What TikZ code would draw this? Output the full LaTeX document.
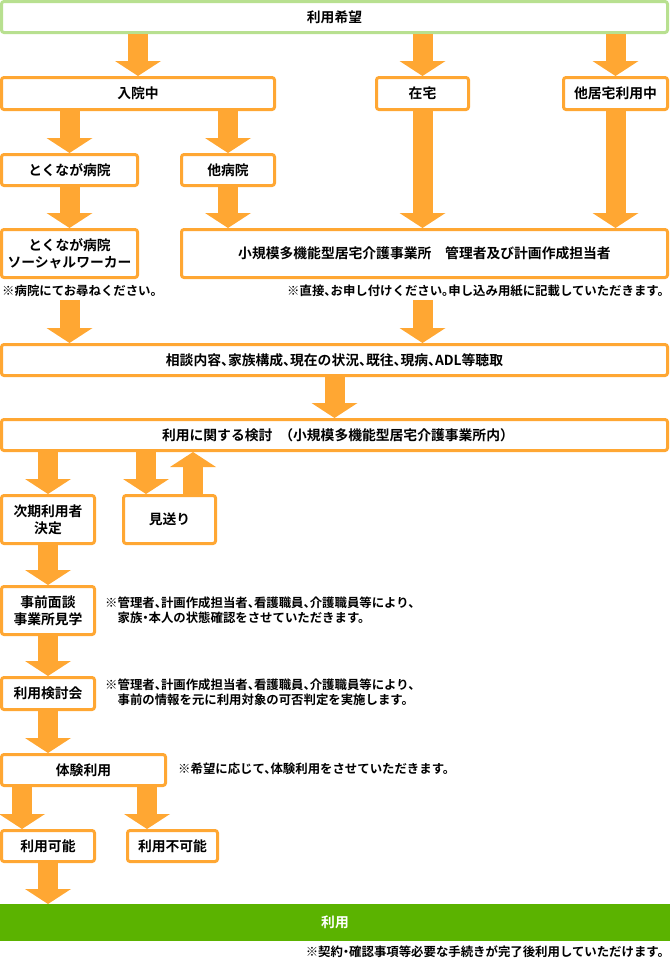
\documentclass[tikz,border=0pt]{standalone}
\usepackage{fontspec}
\setmainfont{Noto Sans CJK JP}[BoldFont={Noto Sans CJK JP Bold},RawFeature=+halt]
\usetikzlibrary{positioning,arrows.meta}
\definecolor{boxorange}{HTML}{FFA733}
\definecolor{lightgreen}{HTML}{B8E090}
\definecolor{usegreen}{HTML}{5BB300}
\tikzset{
    x=1pt,
    y=-1pt,
    block/.style = {
        draw=boxorange,
        shape=rectangle,
        rounded corners=2.5pt,
        line width=3pt,
        fill=white,
        inner sep=0pt,
        align=center,
        font=\bfseries\fontsize{13.8}{17}\selectfont
    },
    note/.style = {
        shape=rectangle,
        inner sep=3pt,
        align=left,
        font=\bfseries\fontsize{12.4}{15}\selectfont
    },
    flow/.style = {
        draw=boxorange,
        line width=20pt,
        -{Triangle[width=46pt,length=15pt,line width=0pt]}
    },
}

\begin{document}
\begin{tikzpicture}
            \useasboundingbox (0,0) rectangle (670,962);

            \node[block, draw=lightgreen, minimum width=666pt, minimum height=31pt] (want) at (334.5,17) {利用希望};
            \node[block, minimum width=273pt, minimum height=32pt] (nyuin) at (138,93.5) {入院中};
            \node[block, minimum width=92pt, minimum height=32pt] (zaitaku) at (422.5,93.5) {在宅};
            \node[block, minimum width=104pt, minimum height=32pt] (takyo) at (615.5,93.5) {他居宅利用中};
            \node[block, minimum width=136pt, minimum height=31pt] (tokunaga) at (69.5,170) {とくなが病院};
            \node[block, minimum width=93pt, minimum height=31pt] (tabyoin) at (228,170) {他病院};
            \node[block, minimum width=136pt, minimum height=48pt] (sw) at (69.5,253.5) {とくなが病院\\ソーシャルワーカー};
            \node[block, minimum width=486pt, minimum height=48pt] (shokibo) at (424.5,253.5) {小規模多機能型居宅介護事業所　管理者及び計画作成担当者};
            \node[note, anchor=west] (note1) at (-1,291) {※病院にてお尋ねください。};
            \node[note, anchor=east] (note2) at (667,291) {※直接、お申し付けください。申し込み用紙に記載していただきます。};
            \node[block, minimum width=666pt, minimum height=31pt] (sodan) at (334.5,360) {相談内容、家族構成、現在の状況、既往、現病、ADL等聴取};
            \node[block, minimum width=666pt, minimum height=31pt] (kento) at (334.5,435) {利用に関する検討　（小規模多機能型居宅介護事業所内）};
            \node[block, minimum width=93pt, minimum height=48pt] (jiki) at (48,519.5) {次期利用者\\決定};
            \node[block, minimum width=92pt, minimum height=48pt] (miokuri) at (169.5,519.5) {見送り};
            \node[block, minimum width=93pt, minimum height=48pt] (jizen) at (48,610.5) {事前面談\\事業所見学};
            \node[note, anchor=west] (note3) at (102,610) {※管理者、計画作成担当者、看護職員、介護職員等により、\\\hspace*{1em}家族・本人の状態確認をさせていただきます。};
            \node[block, minimum width=93pt, minimum height=32pt] (kentokai) at (48,693.5) {利用検討会};
            \node[note, anchor=west] (note4) at (102,692.5) {※管理者、計画作成担当者、看護職員、介護職員等により、\\\hspace*{1em}事前の情報を元に利用対象の可否判定を実施します。};
            \node[block, minimum width=164pt, minimum height=31pt] (taiken) at (83.5,770) {体験利用};
            \node[note, anchor=west] (note5) at (175,769) {※希望に応じて、体験利用をさせていただきます。};
            \node[block, minimum width=93pt, minimum height=31pt] (kano) at (48,846) {利用可能};
            \node[block, minimum width=90pt, minimum height=31pt] (fukano) at (172.5,846) {利用不可能};
            \node[block, draw=none, fill=usegreen, text=white, outer sep=0pt, rounded corners=0pt, minimum width=670pt, minimum height=37pt] (riyo) at (335,922.5) {利用};
            \node[note, anchor=east] (note6) at (667,952) {※契約・確認事項等必要な手続きが完了後利用していただけます。};

            \path[flow] (want.south -| nyuin.north) -- (nyuin.north);
            \path[flow] (want.south -| zaitaku.north) -- (zaitaku.north);
            \path[flow] (want.south -| takyo.north) -- (takyo.north);
            \path[flow] (nyuin.south -| tokunaga.north) -- (tokunaga.north);
            \path[flow] (nyuin.south -| tabyoin.north) -- (tabyoin.north);
            \path[flow] (tokunaga.south) -- (sw.north);
            \path[flow] (tabyoin.south) -- (tabyoin.south |- shokibo.north);
            \path[flow] (zaitaku.south) -- (zaitaku.south |- shokibo.north);
            \path[flow] (takyo.south) -- (takyo.south |- shokibo.north);
            \path[flow] (note1.south -| sw.south) -- (sodan.north -| sw.south);
            \path[flow] (note2.south -| zaitaku.south) -- (sodan.north -| zaitaku.south);
            \path[flow] (sodan.south) -- (kento.north);
            \path[flow] (kento.south -| jiki.north) -- (jiki.north);
            \path[flow] ([xshift=-23.5pt]miokuri.north |- kento.south) -- ([xshift=-23.5pt]miokuri.north);
            \path[flow] ([xshift=23.5pt]miokuri.north) -- ([xshift=23.5pt]miokuri.north |- kento.south);
            \path[flow] (jiki.south) -- (jizen.north);
            \path[flow] (jizen.south) -- (kentokai.north);
            \path[flow] (kentokai.south) -- (kentokai.south |- taiken.north);
            \path[flow] ([xshift=-26pt]kano.north |- taiken.south) -- ([xshift=-26pt]kano.north);
            \path[flow] ([xshift=-25.5pt]fukano.north |- taiken.south) -- ([xshift=-25.5pt]fukano.north);
            \path[flow] (kano.south) -- (kano.south |- riyo.north);
        \end{tikzpicture}
\end{document}
